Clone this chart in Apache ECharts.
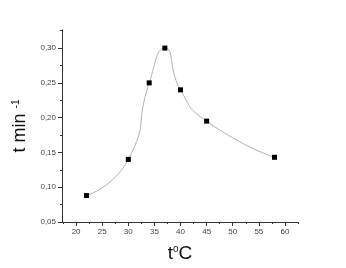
<!DOCTYPE html>
<html><head><meta charset="utf-8">
<script src="https://cdn.jsdelivr.net/npm/echarts@6/dist/echarts.min.js"></script>
<style>html,body{margin:0;padding:0;background:#fff}#c{width:346px;height:268px}</style>
</head><body><div id="c"></div>
<script>
const temps = [22, 30, 34, 37, 40, 45, 58];
const rates = [0.088, 0.14, 0.25, 0.30, 0.24, 0.195, 0.143];
const xMajor = [20, 25, 30, 35, 40, 45, 50, 55, 60];
const xMinor = [17.5, 22.5, 27.5, 32.5, 37.5, 42.5, 47.5, 52.5, 57.5, 62.5];
const yMajor = [0.05, 0.10, 0.15, 0.20, 0.25, 0.30];
const yMinor = [0.075, 0.125, 0.175, 0.225, 0.275, 0.325];
const X_MIN = 17.3, X_MAX = 62.5, Y_MIN = 0.05, Y_MAX = 0.326;

const lblStyle = {fontFamily: 'Liberation Sans, Arial', fontSize: 8, color: '#444'};
const chart = echarts.init(document.getElementById('c'), null, {renderer: 'canvas'});
chart.setOption({
  animation: false,
  grid: {left: 62, right: 48, top: 30, bottom: 44.5, containLabel: false},
  xAxis: [{
    type: 'value', min: X_MIN, max: X_MAX,
    name: '{a|t}{s|o}{a|C}', nameLocation: 'middle', nameGap: 22,
    nameTextStyle: {rich: {a: {fontFamily: 'Liberation Sans, Arial', fontSize: 19, color: '#111'},
                           s: {fontFamily: 'Liberation Sans, Arial', fontSize: 10, color: '#111', verticalAlign: 'top', padding: [0, 0, 8, 0]}}},
    axisLine: {show: true, lineStyle: {color: '#333', width: 1}},
    axisTick: {show: true, customValues: xMajor, length: 4, inside: false, lineStyle: {color: '#333'}},
    axisLabel: Object.assign({customValues: xMajor, margin: 6, formatter: v => String(v)}, lblStyle),
    splitLine: {show: false}
  }, {
    type: 'value', min: X_MIN, max: X_MAX, position: 'bottom',
    axisLine: {show: false},
    axisTick: {show: true, customValues: xMinor, length: 2, lineStyle: {color: '#333'}},
    axisLabel: {show: false}, splitLine: {show: false}
  }],
  yAxis: [{
    type: 'value', min: Y_MIN, max: Y_MAX,
    name: '{a|t min }{s|-1}', nameLocation: 'middle', nameGap: 21, nameRotate: 90,
    nameTextStyle: {rich: {a: {fontFamily: 'Liberation Sans, Arial', fontSize: 18, color: '#111'},
                           s: {fontFamily: 'Liberation Sans, Arial', fontSize: 10, color: '#111', verticalAlign: 'top', padding: [0, 0, 8, 0]}}},
    axisLine: {show: true, lineStyle: {color: '#333', width: 1}},
    axisTick: {show: true, customValues: yMajor, length: 4, lineStyle: {color: '#333'}},
    axisLabel: Object.assign({customValues: yMajor, margin: 6, formatter: v => v.toFixed(2).replace('.', ',')}, lblStyle),
    splitLine: {show: false}
  }, {
    type: 'value', min: Y_MIN, max: Y_MAX, position: 'left',
    axisLine: {show: false},
    axisTick: {show: true, customValues: yMinor, length: 2, lineStyle: {color: '#333'}},
    axisLabel: {show: false}, splitLine: {show: false}
  }],
  series: [{
    type: 'line', xAxisIndex: 0, yAxisIndex: 0,
    data: temps.map((t, i) => [t, rates[i]]),
    smooth: 0.6,
    symbol: 'rect', symbolSize: 5,
    itemStyle: {color: '#000'},
    lineStyle: {color: '#b0b0b0', width: 1}
  }]
});
</script></body></html>
